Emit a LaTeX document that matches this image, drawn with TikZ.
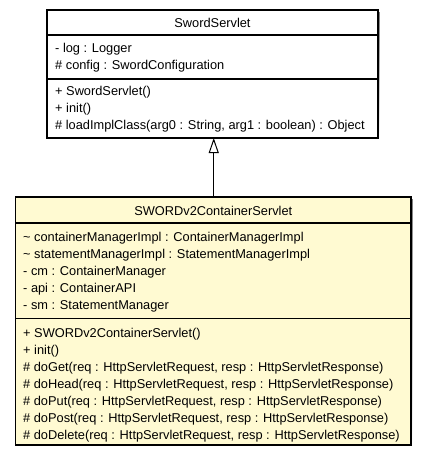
\documentclass[tikz,border=0pt]{standalone}
\usepackage{fontspec}
\setmainfont{Liberation Sans}
\usetikzlibrary{arrows.meta}
\definecolor{classfill}{RGB}{255,250,210}
\definecolor{shade}{RGB}{140,140,140}
\begin{document}
\begin{tikzpicture}[x=1pt,y=-1pt,
  classbox/.style={draw=black,line width=1.1pt,anchor=north west,inner sep=0pt,outer sep=0pt},
  sep/.style={draw=black,line width=1.1pt},
  member/.style={anchor=base west,inner sep=0pt,font=\fontsize{12.8}{15}\selectfont},
  title/.style={anchor=base,inner sep=0pt,font=\fontsize{12.8}{15}\selectfont},
  inherit/.style={draw=black,line width=1pt,-{Triangle[open,length=15pt,width=10pt,line width=1pt]}}]
\useasboundingbox (0,0) rectangle (427,459);

% --- SwordServlet ---
\fill[shade] (49,12) rectangle (379.8,139.8);
\node[classbox,fill=white,minimum width=331pt,minimum height=128pt] (sup) at (47,10) {};
\draw[sep] (47,35) -- (378,35);
\draw[sep] (47,79) -- (378,79);
\node[title] (supname) at (212.5,27.5) {SwordServlet};
\node[member] (supa1) at (55,52.5) {- log : Logger};
\node[member] (supa2) at (55,69) {\# config : SwordConfiguration};
\node[member] (supm1) at (55,95) {+ SwordServlet()};
\node[member] (supm2) at (55,112) {+ init()};
\node[member] (supm3) at (55,129) {\# loadImplClass(arg0 : String, arg1 : boolean) : Object};

% --- SWORDv2ContainerServlet ---
\fill[shade] (17.5,199) rectangle (412.8,446.8);
\node[classbox,fill=classfill,minimum width=395.5pt,minimum height=248pt] (sub) at (15.5,197) {};
\draw[sep] (15.5,223) -- (411,223);
\draw[sep] (15.5,318.5) -- (411,318.5);
\node[title] (subname) at (213.25,215) {SWORDv2ContainerServlet};
\node[member] (suba1) at (23,241) {\textasciitilde\ containerManagerImpl : ContainerManagerImpl};
\node[member] (suba2) at (23,258) {\textasciitilde\ statementManagerImpl : StatementManagerImpl};
\node[member] (suba3) at (23,275) {- cm : ContainerManager};
\node[member] (suba4) at (23,292) {- api : ContainerAPI};
\node[member] (suba5) at (23,309) {- sm : StatementManager};
\node[member] (subm1) at (23,337.5) {+ SWORDv2ContainerServlet()};
\node[member] (subm2) at (23,354.5) {+ init()};
\node[member] (subm3) at (23,371.5) {\# doGet(req : HttpServletRequest, resp : HttpServletResponse)};
\node[member] (subm4) at (23,388.5) {\# doHead(req : HttpServletRequest, resp : HttpServletResponse)};
\node[member] (subm5) at (23,405.5) {\# doPut(req : HttpServletRequest, resp : HttpServletResponse)};
\node[member] (subm6) at (23,422.5) {\# doPost(req : HttpServletRequest, resp : HttpServletResponse)};
\node[member] (subm7) at (23,439.5) {\# doDelete(req : HttpServletRequest, resp : HttpServletResponse)};

% generalization
\draw[inherit] ([xshift=0.5pt]sub.north) -- ([xshift=0.5pt]sub.north |- sup.south);
\end{tikzpicture}
\end{document}
